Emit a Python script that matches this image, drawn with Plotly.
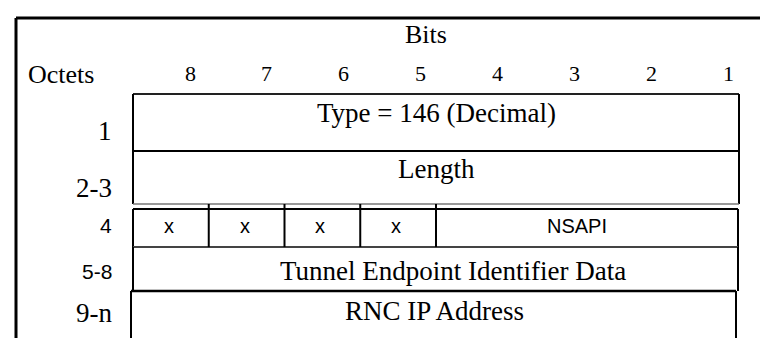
import plotly.graph_objects as go

# ---- content (data) ----
bit_labels = ["8", "7", "6", "5", "4", "3", "2", "1"]
octet_labels = ["1", "2-3", "4", "5-8", "9-n"]
row_fields = ["Type = 146 (Decimal)", "Length", None, "Tunnel Endpoint Identifier Data", "RNC IP Address"]
octet4_fields = ["x", "x", "x", "x", "NSAPI"]
octet4_spans = [1, 1, 1, 1, 4]

# ---- layout (positions / styles) ----
W, H = 768, 338
SERIF = "Liberation Serif, Times New Roman, serif"
SANS = "Liberation Sans, Arial, sans-serif"
tbl_left, tbl_right = 125, 731
bit_w = (tbl_right - tbl_left) / 8
row_tops = [86, 143, 201, 239, 283]
row_bots = [143, 196, 239, 283, 345]
row_left = [125, 125, 125, 125, 123]
row_right = [731, 731, 730, 730, 728]
top_color = ["#222", "black", "black", "#444", "black"]
top_width = [2, 2, 2, 2, 2.5]
octet_label_font = [(SERIF, 27), (SERIF, 27), (SANS, 21), (SANS, 21), (SERIF, 27)]
octet_label_y = [123, 180, 217, 263, 305]
field_text_y = [105, 161, None, 263, 303]
field_text_x = [428, 428, None, 445, 426]

shapes = []
ann = []

def line(x0, y0, x1, y1, w=2, c="black"):
    shapes.append(dict(type="line", x0=x0, y0=y0, x1=x1, y1=y1, xref="x", yref="y",
                       line=dict(color=c, width=w)))

# outer frame
line(8, 10, 768, 10, w=3)
line(8, 10, 8, 345, w=3)

# rows
for i in range(len(octet_labels)):
    l, r, t, b = row_left[i], row_right[i], row_tops[i], row_bots[i]
    line(l, t, r, t, w=top_width[i], c=top_color[i])
    line(l, t, l, b)
    line(r, t, r, b)
line(125, 196, 731, 196, w=1.5, c="#777")

# octet 4 subdivisions
pos = 0
for f, s in zip(octet4_fields, octet4_spans):
    x0 = tbl_left + pos * bit_w
    x1 = tbl_left + (pos + s) * bit_w
    if pos > 0:
        line(x0, 196, x0, 239)
    cx = (x0 + x1) / 2 - 2 if s == 1 else (x0 + x1) / 2 - 11
    ann.append(dict(x=cx, y=218, text=f, font=dict(family=SANS, size=20, color="black")))
    pos += s

# header
ann.append(dict(x=418, y=26, text="Bits", font=dict(family=SERIF, size=26, color="black")))
ann.append(dict(x=18, y=66, text="Octets", xanchor="left", font=dict(family=SERIF, size=26, color="black")))
for k, b in enumerate(bit_labels):
    ann.append(dict(x=182 + k * 76.9, y=65, text=b, font=dict(family=SERIF, size=22, color="black")))

# octet labels and field texts
for i, o in enumerate(octet_labels):
    fam, sz = octet_label_font[i]
    ann.append(dict(x=106, y=octet_label_y[i], text=o, xanchor="right",
                    font=dict(family=fam, size=sz, color="black")))
    if row_fields[i]:
        ann.append(dict(x=field_text_x[i], y=field_text_y[i], text=row_fields[i],
                        font=dict(family=SERIF, size=27, color="black")))

for a in ann:
    a.setdefault("xanchor", "center")
    a.update(xref="x", yref="y", showarrow=False, yanchor="middle")

fig = go.Figure()
fig.update_layout(
    width=W, height=H, margin=dict(l=0, r=0, t=0, b=0),
    paper_bgcolor="white", plot_bgcolor="white",
    xaxis=dict(range=[0, W], visible=False, fixedrange=True),
    yaxis=dict(range=[H, 0], visible=False, fixedrange=True),
    shapes=shapes, annotations=ann, showlegend=False,
)
fig.write_html("out.html")
